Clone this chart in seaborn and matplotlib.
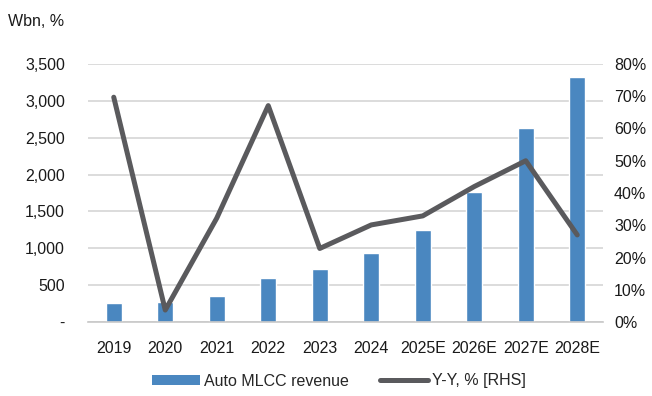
import numpy as np
import pandas as pd
import matplotlib
matplotlib.use("Agg")
import matplotlib.pyplot as plt
import seaborn as sns
from matplotlib.ticker import FuncFormatter
from matplotlib.patches import Patch
from matplotlib.lines import Line2D

years = ["2019", "2020", "2021", "2022", "2023", "2024", "2025E", "2026E", "2027E", "2028E"]
revenue = [262, 275, 357, 593, 723, 940, 1244, 1760, 2628, 3320]
yoy = [69.7, 3.7, 32.2, 67.1, 22.8, 30.1, 32.9, 42.0, 50.0, 27.0]
left_ticks = [0, 500, 1000, 1500, 2000, 2500, 3000, 3500]
right_ticks = [0, 10, 20, 30, 40, 50, 60, 70, 80]

sns.set_theme(style="white")
plt.rcParams["font.family"] = ["Liberation Sans", "DejaVu Sans"]

bar_color = "#4a87c0"
line_color = "#5a5a5d"
grid_color = "#d9d9d9"
text_color = "#1a1a1a"

df = pd.DataFrame({"year": years, "revenue": revenue, "yoy": yoy})

fig = plt.figure(figsize=(6.52, 3.96), dpi=100)
ax = fig.add_axes([88/652, 1 - 322/396, (603-88)/652, (322-64)/396])

sns.barplot(data=df, x="year", y="revenue", color=bar_color, width=0.32,
            saturation=1, ax=ax, zorder=2)
ax.set_ylim(0, 3500)
ax.set_xlim(-0.5, 9.5)
ax.set_yticks(left_ticks)
ax.yaxis.set_major_formatter(FuncFormatter(lambda v, p: "-" if v == 0 else f"{int(v):,}"))
ax.grid(axis="y", color=grid_color, linewidth=1.3, zorder=0)
ax.set_axisbelow(True)
for s in ["top", "left", "right"]:
    ax.spines[s].set_visible(False)
ax.spines["bottom"].set_color("#c8c8c8")
ax.spines["bottom"].set_linewidth(1.2)
ax.set_xlabel("")
ax.set_ylabel("")
ax.tick_params(axis="x", which="major", length=0, pad=14, labelsize=11.5, colors=text_color)
ax.set_xticks(np.arange(-0.5, 10, 1), minor=True)
ax.tick_params(axis="x", which="minor", length=6, width=1.2, color="#c8c8c8", direction="out")
ax.tick_params(axis="y", length=0, pad=16.5, labelsize=11.5, colors=text_color)

ax2 = ax.twinx()
sns.lineplot(data=df, x="year", y="yoy", color=line_color, linewidth=3.6, sort=False,
             ax=ax2, zorder=3)
ax2.set_ylim(0, 80)
ax2.set_yticks(right_ticks)
ax2.yaxis.set_major_formatter(FuncFormatter(lambda v, p: f"{int(v)}%"))
for s in ["top", "left", "right", "bottom"]:
    ax2.spines[s].set_visible(False)
ax2.set_ylabel("")
ax2.set_xlabel("")
ax2.tick_params(axis="y", length=0, pad=8, labelsize=11.5, colors=text_color)
ax2.grid(False)

fig.text(8/652, 1 - 22/396, "Wbn, %", fontsize=11.5, color=text_color, va="center", ha="left")

handles = [Patch(facecolor=bar_color, edgecolor="none"),
           Line2D([0], [0], color=line_color, linewidth=3.6)]
fig.legend(handles, ["Auto MLCC revenue", "Y-Y, % [RHS]"], loc="center",
           bbox_to_anchor=(339/652, 1 - 381/396), ncol=2, frameon=False,
           fontsize=11.5, handlelength=3.0, handleheight=0.6, columnspacing=1.9,
           handletextpad=0.3)

fig.savefig("out.png", dpi=100)
